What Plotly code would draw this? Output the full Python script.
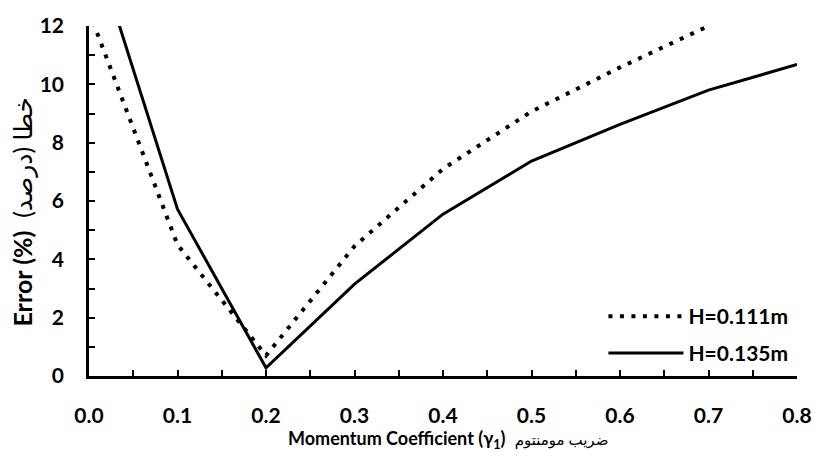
import plotly.graph_objects as go

x_vals = [0.0, 0.1, 0.2, 0.3, 0.4, 0.5, 0.6, 0.7, 0.8]
err_h111 = [12.5, 4.5, 0.7, 4.45, 7.1, 9.07, 10.58, 12.0, None]
err_h135 = [15.3, 5.72, 0.28, 3.15, 5.55, 7.37, 8.63, 9.8, 10.68]
series_names = ["H=0.111m", "H=0.135m"]
x_ticks = [0.0, 0.1, 0.2, 0.3, 0.4, 0.5, 0.6, 0.7, 0.8]
x_tick_labels = ["0.0", "0.1", "0.2", "0.3", "0.4", "0.5", "0.6", "0.7", "0.8"]
y_ticks = [0, 2, 4, 6, 8, 10, 12]

FONT = "Lato, 'DejaVu Sans', sans-serif"

fig = go.Figure()
fig.add_trace(go.Scatter(
    x=x_vals, y=err_h111, mode="lines", name=series_names[0],
    line=dict(color="black", width=4, dash="4px,7.5px"),
    legend="legend",
))
fig.add_trace(go.Scatter(
    x=x_vals, y=err_h135, mode="lines", name=series_names[1],
    line=dict(color="black", width=3),
    legend="legend2",
))

axis_common = dict(
    showgrid=False, zeroline=False, showline=True, linecolor="black", linewidth=2.5,
    ticks="inside", ticklen=6, tickwidth=2, tickcolor="black",
    tickfont=dict(family=FONT, size=21, color="black", weight="bold"),
)

fig.update_xaxes(
    range=[0, 0.8], tickvals=x_ticks, ticktext=x_tick_labels,
    minor=dict(dtick=0.05, ticks="inside", ticklen=6, tickwidth=2, tickcolor="black"),
    ticklabelstandoff=19,
    **axis_common,
)
fig.update_yaxes(
    range=[0, 12], tickvals=y_ticks,
    minor=dict(dtick=1, ticks="inside", ticklen=6, tickwidth=2, tickcolor="black"),
    ticklabelstandoff=18,
    **axis_common,
)

legend_common = dict(
    xanchor="left", yanchor="middle", bgcolor="rgba(0,0,0,0)",
    font=dict(family=FONT, size=21, color="black", weight="bold"),
    itemwidth=75,
)

fig.update_layout(
    width=824, height=459,
    margin=dict(l=89, r=18, t=23, b=83),
    paper_bgcolor="white", plot_bgcolor="white",
    showlegend=True,
    legend=dict(x=0.7266, y=0.17, **legend_common),
    legend2=dict(x=0.7266, y=0.065, **legend_common),
    annotations=[
        dict(
            text="<b>Momentum Coefficient (γ<sub>1</sub>)</b>  <span style='font-size:15px'>ضریب مومنتوم</span>",
            xref="paper", yref="paper", x=0.5077, y=-0.181,
            xanchor="center", yanchor="middle", showarrow=False,
            font=dict(family=FONT, size=18, color="black"),
        ),
        dict(
            text="<b>Error (%)</b>  خطا (درصد)",
            xref="paper", yref="paper", x=0, xshift=-67, y=0.47,
            xanchor="center", yanchor="middle", showarrow=False, textangle=-90,
            font=dict(family=FONT, size=25, color="black"),
        ),
    ],
)

fig.write_html("out.html")
